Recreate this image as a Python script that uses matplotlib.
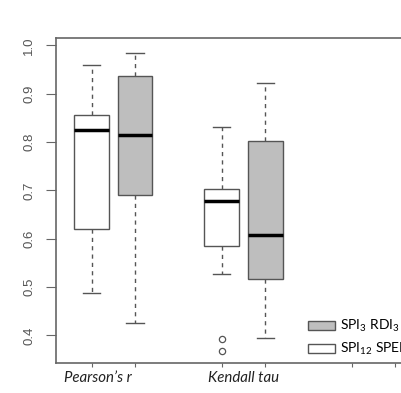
import matplotlib
matplotlib.use("Agg")
import matplotlib.pyplot as plt
from matplotlib.patches import Patch

# box statistics: Pearson white, Pearson grey, Kendall white, Kendall grey
positions = [1, 2, 4, 5]
whislo = [0.488, 0.425, 0.527, 0.395]
q1 = [0.620, 0.690, 0.584, 0.516]
med = [0.825, 0.814, 0.678, 0.607]
q3 = [0.856, 0.936, 0.702, 0.803]
whishi = [0.959, 0.984, 0.832, 0.921]
fliers = [[], [], [0.393, 0.367], []]
fills = ["white", "#bebebe", "white", "#bebebe"]

group_labels = ["Pearson\u2019s r", "Kendall tau"]
group_x = [1.14, 4.5]
yticks = [0.4, 0.5, 0.6, 0.7, 0.8, 0.9, 1.0]
xticks = [1, 2, 4, 5, 7, 8]
legend_labels = ["SPI$_3$ RDI$_3$", "SPI$_{12}$ SPEI$_{12}$"]

plt.rcParams["mathtext.fontset"] = "custom"
plt.rcParams["mathtext.rm"] = "Lato"
plt.rcParams["mathtext.it"] = "Lato:italic"

fig = plt.figure(figsize=(4.01, 3.93), dpi=100)
ax = fig.add_axes([56 / 401, 30 / 393, 375 / 401, 325 / 393])

stats = []
for i in range(len(positions)):
    stats.append(dict(whislo=whislo[i], q1=q1[i], med=med[i], q3=q3[i],
                      whishi=whishi[i], fliers=fliers[i]))

edge = "#555555"
bp = ax.bxp(stats, positions=positions, widths=0.8, patch_artist=True,
            boxprops=dict(edgecolor=edge, linewidth=1.0),
            medianprops=dict(color="black", linewidth=2.5, solid_capstyle="butt"),
            whiskerprops=dict(color=edge, linestyle=(0, (3, 3)), linewidth=1.0),
            capprops=dict(color=edge, linewidth=1.0),
            flierprops=dict(marker="o", markerfacecolor="none", markeredgecolor=edge,
                            markersize=4.5, markeredgewidth=0.9),
            capwidths=0.4)
for patch, c in zip(bp["boxes"], fills):
    patch.set_facecolor(c)

ax.set_xlim(0.18, 8.82)
ax.set_ylim(0.343, 1.015)
ax.set_yticks(yticks)
ax.set_yticklabels([f"{v:.1f}" for v in yticks], rotation=90, va="center",
                   color="#555555", fontsize=9.5, family="Liberation Sans")
ax.set_xticks(xticks)
ax.set_xticklabels([])
ax.tick_params(axis="y", length=7, color="#666666", pad=8)
ax.tick_params(axis="x", length=3, color="#666666")
for s in ax.spines.values():
    s.set_color("#666666")
    s.set_linewidth(1.2)

for lab, x in zip(group_labels, group_x):
    ax.text(x, -0.045, lab, transform=ax.get_xaxis_transform(), ha="center",
            va="center", fontsize=10.8, style="italic", family="Lato", color="#222222")

handles = [Patch(facecolor="#bebebe", edgecolor="#555555"),
           Patch(facecolor="white", edgecolor="#555555")]
ax.legend(handles, legend_labels, loc="lower left", bbox_to_anchor=(0.672, 0.017),
          frameon=False, prop=dict(family="Lato", size=10), handlelength=1.95,
          handleheight=0.65, handletextpad=0.36, labelspacing=0.5, borderaxespad=0,
          borderpad=0)

fig.savefig("out.png", dpi=100)
